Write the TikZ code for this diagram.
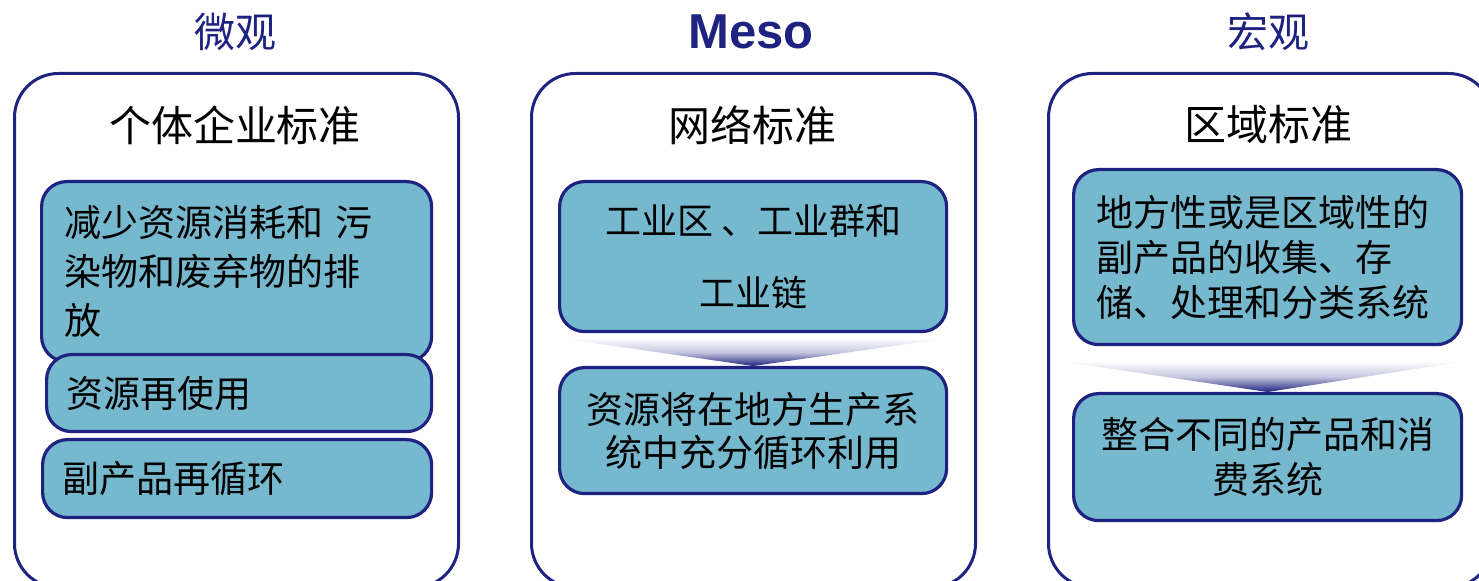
\documentclass[tikz,border=0pt]{standalone}
\usepackage{fontspec}
\setmainfont{Liberation Sans}
\newfontfamily\cjk{Noto Sans CJK SC}
\usetikzlibrary{calc,positioning}
\definecolor{dkblue}{RGB}{30,34,128}
\definecolor{boxblue}{RGB}{118,185,207}

\begin{document}
\begin{tikzpicture}[x=0.5pt,y=-0.5pt,
        outer/.style={draw=dkblue,line width=1.5pt,rounded corners=22pt,minimum width=222pt,minimum height=257pt,anchor=north west,inner sep=0pt},
        inner/.style={draw=dkblue,line width=1.6pt,rounded corners=12.5pt,fill=boxblue,anchor=north west,inner ysep=0pt,inner xsep=11pt},
        head/.style={text=dkblue,font=\cjk\fontsize{20.5}{24}\selectfont},
        sub/.style={font=\cjk\fontsize{21}{25}\selectfont},
        funnel/.style={top color=white,bottom color=dkblue,middle color=white!75!dkblue}]
    \clip (0,0) rectangle (1479,581);

    % columns
    \node[outer] (micro) at (13,72) {};
    \node[outer] (meso) at (530,72) {};
    \node[outer] (macro) at (1047,72) {};

    \node[head] (microhead) at (235,32) {微观};
    \node[head,font=\bfseries\fontsize{24.5}{28}\selectfont] (mesohead) at (751,32) {Meso};
    \node[head] (macrohead) at (1268,32) {宏观};

    \node[sub] (microsub) at (235,125) {个体企业标准};
    \node[sub] (mesosub) at (752,125) {网络标准};
    \node[sub] (macrosub) at (1268,125) {区域标准};

    % micro
    \node[inner,minimum width=195pt,minimum height=90pt,text width=172pt,inner xsep=11.5pt,align=left,
          font=\cjk\fontsize{18.5}{24.5}\selectfont] (l1) at (40,180)
          {减少资源消耗和 污\\染物和废弃物的排\\放};
    \node[inner,minimum width=192.5pt,minimum height=38.5pt,text width=172.5pt,inner xsep=10pt,align=left,
          font=\cjk\fontsize{18.5}{24}\selectfont] (l2) at (45,353) {资源再使用};
    \node[inner,minimum width=194.5pt,minimum height=39pt,text width=174.5pt,inner xsep=10pt,align=left,
          font=\cjk\fontsize{18.5}{24}\selectfont] (l3) at (41,438) {副产品再循环};

    % meso
    \node[inner,minimum width=193.5pt,minimum height=75pt,align=center,
          font=\cjk\fontsize{18}{36}\selectfont] (m1) at (558,180) {工业区 、工业群和\\工业链};
    \node[inner,minimum width=193.5pt,minimum height=63pt,align=center,
          font=\cjk\fontsize{18.5}{21.5}\selectfont] (m2) at (558,366) {资源将在地方生产系\\统中充分循环利用};
    \shade[funnel] ($(m1.south west)+(2,5)$) -- ($(m1.south east)+(0,5)$) -- (m2.north) -- cycle;

    % macro
    \node[inner,minimum width=194pt,minimum height=87.5pt,text width=171pt,inner xsep=11.5pt,align=left,
          font=\cjk\fontsize{18.5}{22.5}\selectfont] (r1) at (1072,168)
          {地方性或是区域性的\\副产品的收集、存\\储、处理和分类系统};
    \node[inner,minimum width=194pt,minimum height=63.5pt,align=center,
          font=\cjk\fontsize{18.5}{22.5}\selectfont] (r2) at (1072,392) {整合不同的产品和消\\费系统};
    \shade[funnel] ($(r1.south west)+(-12,15)$) -- ($(r1.south east)+(2,15)$) -- (r2.north) -- cycle;
\end{tikzpicture}
\end{document}
